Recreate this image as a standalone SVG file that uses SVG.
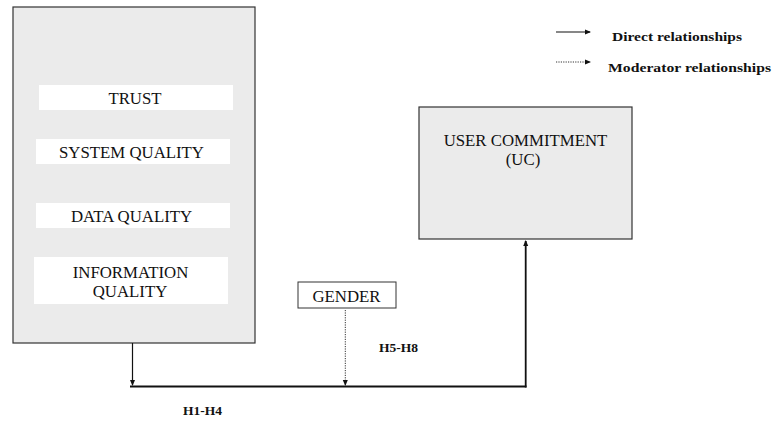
<svg xmlns="http://www.w3.org/2000/svg" width="774" height="421" viewBox="0 0 774 421">
<defs>
<style>
.box{fill:#ebebeb;stroke:#333;stroke-width:1.2}
.inner{fill:#fff;stroke:none}
.lbl{font-family:"Liberation Serif","Times New Roman",serif;font-size:16.8px;fill:#111;text-anchor:middle}
.bold{font-family:"Liberation Serif","Times New Roman",serif;font-size:13.5px;font-weight:bold;fill:#111}
.leg{font-family:"Liberation Serif","Times New Roman",serif;font-size:13px;font-weight:bold;fill:#111}
.solid{stroke:#111;stroke-width:1.8;fill:none}
.thin{stroke:#111;stroke-width:1.2;fill:none}
.dot{stroke:#333;stroke-width:1;stroke-dasharray:1.2 1.2;fill:none}
</style>
<marker id="ah" markerWidth="6" markerHeight="6" refX="5" refY="3" orient="auto" markerUnits="userSpaceOnUse">
<path d="M0,0.5 L6,3 L0,5.5 Z" fill="#111"/>
</marker>
</defs>
<rect width="774" height="421" fill="#fff"/>
<g id="factors">
<rect class="box" x="13" y="7" width="242" height="336"/>
<rect class="inner" x="39" y="85" width="194" height="25"/>
<text class="lbl" x="135" y="104">TRUST</text>
<rect class="inner" x="36" y="139" width="194" height="25"/>
<text class="lbl" x="131.5" y="158">SYSTEM QUALITY</text>
<rect class="inner" x="36" y="203" width="194" height="25"/>
<text class="lbl" x="131.5" y="222">DATA QUALITY</text>
<rect class="inner" x="34" y="257" width="194" height="47"/>
<text class="lbl" x="130.5" y="278">INFORMATION</text>
<text class="lbl" x="130" y="297">QUALITY</text>
</g>
<g id="uc">
<rect class="box" x="419" y="107" width="213" height="132"/>
<text class="lbl" x="525.5" y="146">USER COMMITMENT</text>
<text class="lbl" x="523" y="165">(UC)</text>
</g>
<g id="gender">
<rect x="298" y="282" width="98" height="26" fill="#fff" stroke="#333" stroke-width="1"/>
<text class="lbl" x="346.5" y="301.5">GENDER</text>
</g>
<g id="connectors">
<line class="thin" x1="132.5" y1="343" x2="132.5" y2="385" marker-end="url(#ah)"/>
<line class="solid" x1="130" y1="386.5" x2="526.5" y2="386.5"/>
<line class="solid" x1="525.7" y1="387.5" x2="525.7" y2="241" marker-end="url(#ah)"/>
<line class="dot" x1="345.3" y1="310" x2="345.3" y2="385" marker-end="url(#ah)"/>
</g>
<g id="labels">
<text class="bold" x="183" y="415">H1-H4</text>
<text class="bold" x="379" y="352">H5-H8</text>
</g>
<g id="legend">
<line class="thin" x1="556" y1="32" x2="590" y2="32" marker-end="url(#ah)"/>
<text class="leg" x="612" y="41" textLength="130" lengthAdjust="spacingAndGlyphs">Direct relationships</text>
<line class="dot" x1="556" y1="62" x2="590" y2="62" marker-end="url(#ah)"/>
<text class="leg" x="608" y="71.5" textLength="163" lengthAdjust="spacingAndGlyphs">Moderator relationships</text>
</g>
</svg>
